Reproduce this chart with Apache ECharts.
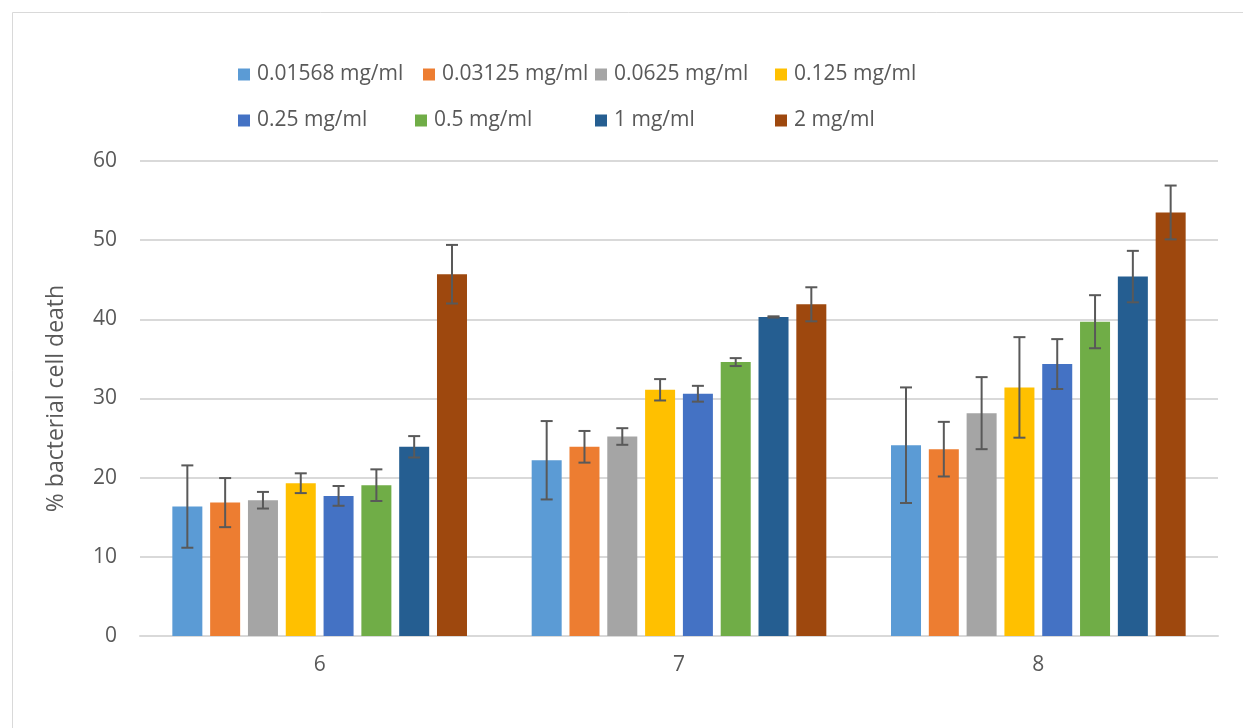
<!DOCTYPE html>
<html>
<head>
<meta charset="utf-8">
<script src="https://cdn.jsdelivr.net/npm/echarts@6/dist/echarts.min.js"></script>
<style>
html,body{margin:0;padding:0;background:#fff;}
#chart{width:1243px;height:728px;}
</style>
</head>
<body>
<div id="chart"></div>
<script>
// ---- data ----
const categories = ['6', '7', '8'];
const seriesNames = ['0.01568 mg/ml', '0.03125 mg/ml', '0.0625 mg/ml', '0.125 mg/ml', '0.25 mg/ml', '0.5 mg/ml', '1 mg/ml', '2 mg/ml'];
const c001568 = [16.35, 22.2, 24.1];
const c003125 = [16.85, 23.9, 23.6];
const c00625  = [17.15, 25.2, 28.15];
const c0125   = [19.3, 31.1, 31.4];
const c025    = [17.7, 30.6, 34.35];
const c05     = [19.05, 34.6, 39.7];
const c1      = [23.9, 40.3, 45.4];
const c2      = [45.7, 41.9, 53.5];
const e001568 = [5.2, 4.95, 7.3];
const e003125 = [3.1, 2.0, 3.45];
const e00625  = [1.05, 1.05, 4.55];
const e0125   = [1.25, 1.35, 6.35];
const e025    = [1.25, 1.0, 3.15];
const e05     = [2.0, 0.5, 3.35];
const e1      = [1.35, 0.08, 3.25];
const e2      = [3.7, 2.15, 3.4];
const yTicks  = [0, 10, 20, 30, 40, 50, 60];

const values = [c001568, c003125, c00625, c0125, c025, c05, c1, c2];
const errors = [e001568, e003125, e00625, e0125, e025, e05, e1, e2];
const colors = ['#5B9BD5', '#ED7D31', '#A5A5A5', '#FFC000', '#4472C4', '#70AD47', '#255E91', '#9E480E'];

const FONT = '"Open Sans", sans-serif';
const CAT_GAP = 0.18;   // barCategoryGap fraction
const BAR_GAP = 0.26;   // barGap fraction
const N = seriesNames.length;

const series = [];
values.forEach((vals, i) => {
  series.push({
    name: seriesNames[i],
    type: 'bar',
    data: vals,
    itemStyle: { color: colors[i] },
    barGap: (BAR_GAP * 100) + '%',
    barCategoryGap: (CAT_GAP * 100) + '%',
    emphasis: { disabled: true }
  });
});
values.forEach((vals, i) => {
  const errData = vals.map((v, k) => [k, v - errors[i][k], v + errors[i][k]]);
  series.push({
    type: 'custom',
    name: seriesNames[i] + ' err',
    data: errData,
    z: 10,
    silent: true,
    encode: { x: 0, y: [1, 2] },
    renderItem: function (params, api) {
      const k = api.value(0);
      const lo = api.coord([k, api.value(1)]);
      const hi = api.coord([k, api.value(2)]);
      const band = api.size([1, 0])[0];
      const groupW = band * (1 - CAT_GAP);
      const barW = groupW / (N + (N - 1) * BAR_GAP);
      const x = lo[0] - groupW / 2 + i * barW * (1 + BAR_GAP) + barW / 2;
      const cap = 6;
      const st = { stroke: '#595959', lineWidth: 2 };
      return {
        type: 'group',
        children: [
          { type: 'line', shape: { x1: x, y1: lo[1], x2: x, y2: hi[1] }, style: st },
          { type: 'line', shape: { x1: x - cap, y1: lo[1], x2: x + cap, y2: lo[1] }, style: st },
          { type: 'line', shape: { x1: x - cap, y1: hi[1], x2: x + cap, y2: hi[1] }, style: st }
        ]
      };
    }
  });
});

// legends: one per item, laid out on a 4-column grid
const legendX = [238, 423, 595, 775, 238, 415, 595, 775];
const legendY = [64, 64, 64, 64, 110, 110, 110, 110];
const legends = seriesNames.map((n, i) => ({
  data: [n],
  left: legendX[i],
  top: legendY[i],
  icon: 'rect',
  itemWidth: 12,
  itemHeight: 12,
  itemGap: 0,
  padding: 0,
  selectedMode: false,
  textStyle: { fontFamily: FONT, fontSize: 21, color: '#595959', padding: [0, 0, 0, 2] }
}));

const chart = echarts.init(document.getElementById('chart'), null, { renderer: 'canvas' });
chart.setOption({
  backgroundColor: '#fff',
  animation: false,
  legend: legends,
  grid: { left: 140, right: 25, top: 161, bottom: 92 },
  xAxis: {
    type: 'category',
    data: categories,
    axisLine: { show: true, lineStyle: { color: '#d9d9d9', width: 2 } },
    axisTick: { show: false },
    axisLabel: { fontFamily: FONT, fontSize: 21, color: '#595959', margin: 19 }
  },
  yAxis: {
    type: 'value',
    min: yTicks[0],
    max: yTicks[yTicks.length - 1],
    interval: 10,
    name: '% bacterial cell death',
    nameLocation: 'middle',
    nameGap: 72,
    nameRotate: 90,
    nameTextStyle: { fontFamily: FONT, fontSize: 23, color: '#595959' },
    axisLine: { show: false },
    axisTick: { show: false },
    splitLine: { lineStyle: { color: '#d9d9d9', width: 2 } },
    axisLabel: { fontFamily: FONT, fontSize: 21, color: '#595959', margin: 23 }
  },
  graphic: [{
    type: 'rect',
    shape: { x: 12.5, y: 12.5, width: 1240, height: 730 },
    style: { fill: null, stroke: '#d9d9d9', lineWidth: 1 },
    silent: true,
    z: -1
  }],
  series: series
});
</script>
</body>
</html>
